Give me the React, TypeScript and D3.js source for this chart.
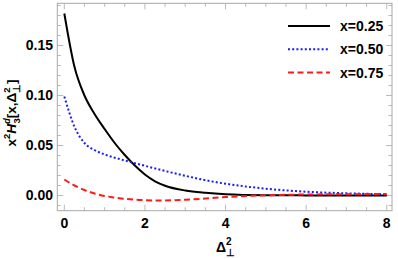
import React from 'react';
import * as d3 from 'd3';

const deltaSq = [0, 0.25, 0.5, 0.75, 1, 1.25, 1.5, 1.75, 2, 2.25, 2.5, 3, 3.5, 4, 5, 6, 7, 8];
const x025 = [0.182, 0.129, 0.1, 0.0815, 0.0665, 0.0525, 0.0405, 0.03, 0.021, 0.0142, 0.0098, 0.005, 0.0027, 0.0013, 0.0003, 0.0001, 0, 0];
const x050 = [0.099, 0.069, 0.0525, 0.0455, 0.041, 0.0378, 0.035, 0.0323, 0.0297, 0.0271, 0.0245, 0.0197, 0.0153, 0.0118, 0.0068, 0.0038, 0.0022, 0.0013];
const x075 = [0.016, 0.01, 0.0055, 0.002, -0.0005, -0.002, -0.0033, -0.0042, -0.0047, -0.0049, -0.0049, -0.0042, -0.003, -0.0016, 0.0002, 0.001, 0.0013, 0.0015];

const seriesNames = ['x=0.25', 'x=0.50', 'x=0.75'];
const xTicks = [0, 2, 4, 6, 8];
const yTicks = [0, 0.05, 0.1, 0.15];

const W = 398;
const H = 259;

const styles = [
  { color: '#000', dash: null },
  { color: '#1a1aff', dash: '2,2.2' },
  { color: '#ff1a1a', dash: '6,3.5' },
];

export default function App() {
  const x = d3.scaleLinear().domain([-0.174, 8.13]).range([57.3, 392]);
  const y = d3.scaleLinear().domain([-0.0152, 0.1922]).range([210.7, 3.3]);
  const [x0, x1] = x.range();
  const [y0, y1] = y.range();

  const series = [x025, x050, x075];
  const line = d3
    .line<number>()
    .x((_, i) => x(deltaSq[i]))
    .y((d) => y(d))
    .curve(d3.curveMonotoneX);

  const minorX = d3.range(0, 8.01, 0.5);
  const minorY = d3.range(-0.01, 0.1901, 0.01);
  const frame = '#a8a8a8';
  const font = '"Liberation Sans", Arial, sans-serif';

  return (
    <svg width={W} height={H} style={{ position: 'absolute', left: 0, top: 0 }} fontFamily={font}>
      <rect x={0} y={0} width={W} height={H} fill="#fff" />
      {/* ticks on all four sides */}
      {minorX.map((t) => {
        const major = Math.abs(t % 2) < 1e-6;
        const len = major ? 6 : 3.5;
        return (
          <g key={'tx' + t} stroke={frame} strokeWidth={0.8}>
            <line x1={x(t)} x2={x(t)} y1={y0} y2={y0 - len} />
            <line x1={x(t)} x2={x(t)} y1={y1} y2={y1 + len} />
          </g>
        );
      })}
      {minorY.map((t) => {
        const major = Math.abs(Math.round(t * 100) % 5) === 0;
        const len = major ? 6 : 3.5;
        return (
          <g key={'ty' + t} stroke={frame} strokeWidth={0.8}>
            <line x1={x0} x2={x0 + len} y1={y(t)} y2={y(t)} />
            <line x1={x1} x2={x1 - len} y1={y(t)} y2={y(t)} />
          </g>
        );
      })}
      <rect x={x0} y={y1} width={x1 - x0} height={y0 - y1} fill="none" stroke={frame} strokeWidth={1} />

      {series.map((s, i) => (
        <path
          key={i}
          d={line(s) || ''}
          fill="none"
          stroke={styles[i].color}
          strokeWidth={2}
          strokeDasharray={styles[i].dash || undefined}
        />
      ))}

      {xTicks.map((t) => (
        <text key={'lx' + t} x={x(t)} y={228} textAnchor="middle" fontSize={14} fontWeight="bold">
          {t}
        </text>
      ))}
      {yTicks.map((t) => (
        <text key={'ly' + t} x={53} y={y(t)} dy="0.35em" textAnchor="end" fontSize={14} fontWeight="bold">
          {t.toFixed(2)}
        </text>
      ))}

      <text x={216} y={252} fontSize={14} fontWeight="bold">
        Δ
        <tspan fontSize={10} dy={-7}>2</tspan>
        <tspan fontSize={10} dx={-5.5} dy={11}>⊥</tspan>
      </text>

      <text transform="translate(16,113) rotate(-90)" textAnchor="middle" fontSize={13.5} fontWeight="bold">
        x<tspan fontSize={9.5} dy={-6}>2</tspan>
        <tspan fontStyle="italic" dy={6}>H</tspan>
        <tspan fontSize={9.5} fontStyle="italic" dy={-6}>d</tspan>
        <tspan fontSize={9.5} dx={-5.5} dy={9.5}>3</tspan>
        <tspan dy={-3.5}>[x,Δ</tspan>
        <tspan fontSize={9.5} dy={-6}>2</tspan>
        <tspan fontSize={9.5} dx={-5.5} dy={9.5}>⊥</tspan>
        <tspan dy={-3.5}>]</tspan>
      </text>

      {seriesNames.map((n, i) => {
        const ly = 26 + i * 23.3;
        return (
          <g key={n}>
            <line
              x1={288}
              x2={330}
              y1={ly}
              y2={ly}
              stroke={styles[i].color}
              strokeWidth={2}
              strokeDasharray={styles[i].dash || undefined}
            />
            <text x={340} y={ly} dy="0.35em" fontSize={14} fontWeight="bold">
              {n}
            </text>
          </g>
        );
      })}
    </svg>
  );
}
